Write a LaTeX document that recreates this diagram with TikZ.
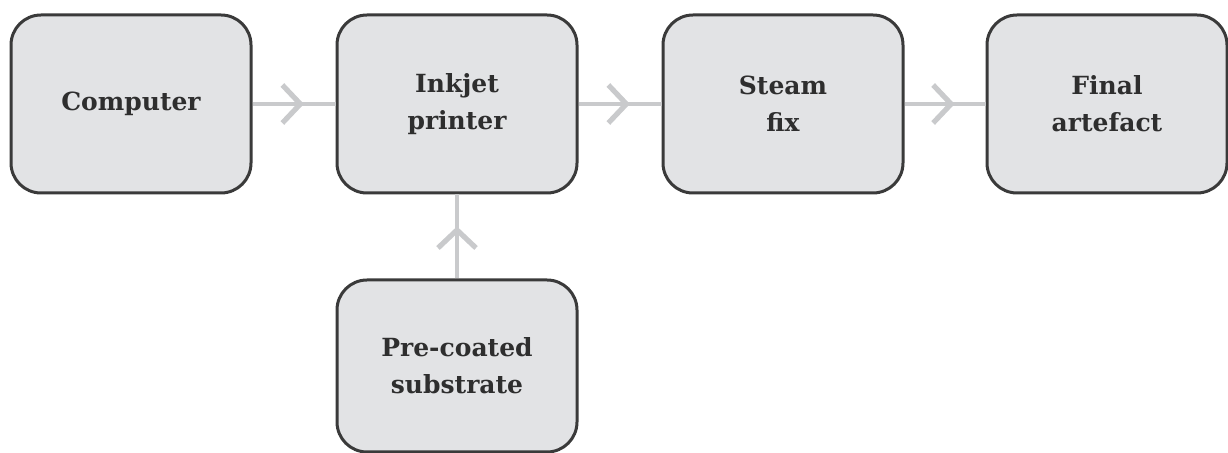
\documentclass[tikz,border=0pt]{standalone}
\usepackage{fontspec}
\setmainfont{DejaVu Serif}
\usepackage{tikz}
\usetikzlibrary{arrows.meta, decorations.markings}

\definecolor{boxfill}{HTML}{E2E3E5}
\definecolor{boxline}{HTML}{3A3A3A}
\definecolor{flowgray}{HTML}{C9CACC}
\definecolor{labeltext}{HTML}{2E2E2E}

\begin{document}
\begin{tikzpicture}[x=0.5pt, y=-0.5pt,
  stage/.style={draw=boxline, line width=1.5pt, fill=boxfill,
    rounded corners=15pt, minimum width=120pt, minimum height=89pt,
    align=center, font=\bfseries\fontsize{12.5}{18.5}\selectfont,
    text=labeltext, inner sep=0pt},
  flow/.style={flowgray, line width=1.6pt, postaction={decorate,
    decoration={markings, mark=at position 0.62 with
      {\arrow{Straight Barb[length=9pt, width=19pt, line width=2.6pt]}}}}}
]

\useasboundingbox (0,0) rectangle (1228,453);

%% --- top row of stages ---
\node[stage] (computer) at (131,104)  {Computer};
\node[stage] (printer)  at (457,104)  {Inkjet\\printer};
\node[stage] (steam)    at (783,104)  {Steam\\fix};
\node[stage] (artefact) at (1107,104) {Final\\artefact};

%% --- substrate feeding the printer ---
\node[stage, minimum height=86pt] (substrate) at (457,366)
  {Pre-coated\\substrate};

%% --- flow connectors ---
\draw[flow] (computer.east) -- (printer.west);
\draw[flow] (printer.east)  -- (steam.west);
\draw[flow] (steam.east)    -- (artefact.west);
\draw[flow] (substrate.north) -- (printer.south);

\end{tikzpicture}
\end{document}
